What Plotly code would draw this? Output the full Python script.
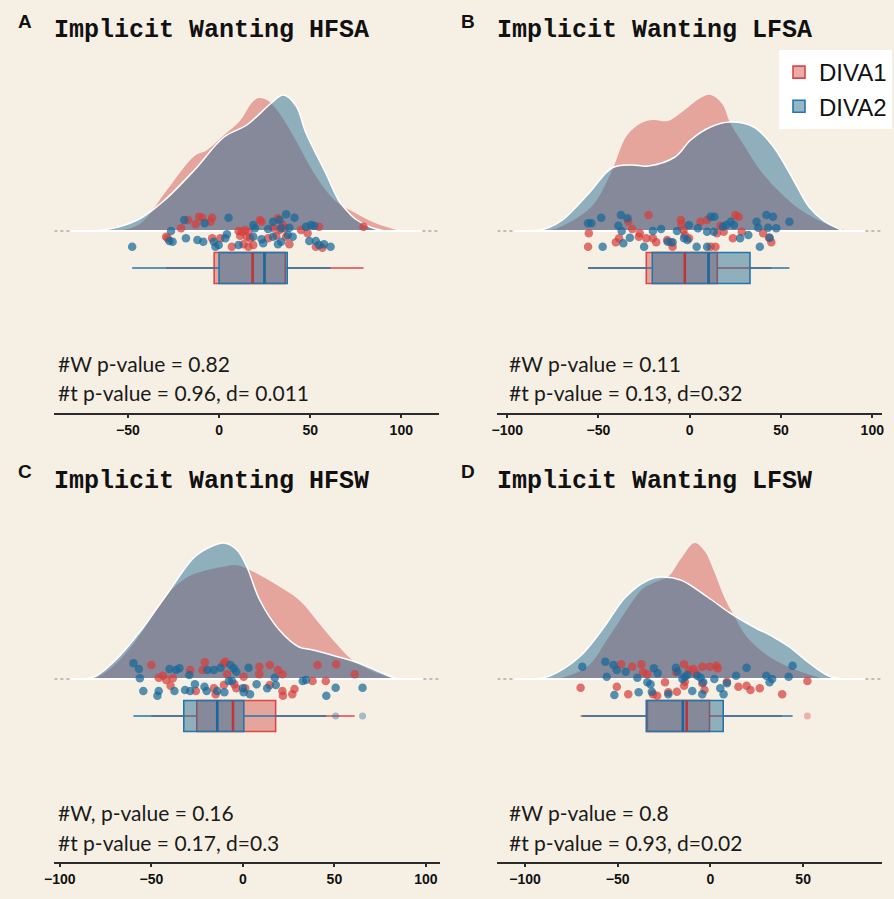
import plotly.graph_objects as go

# ---------------------------------------------------------------------
# Data (raincloud plots, 4 panels)
# density heights are in plot units (baseline = 0), points jittered in y
# ---------------------------------------------------------------------
groups = ["DIVA1", "DIVA2"]
panel_letters = ["A", "B", "C", "D"]
panel_titles = ["Implicit Wanting HFSA", "Implicit Wanting LFSA",
                "Implicit Wanting HFSW", "Implicit Wanting LFSW"]
stat_lines = [
    ["#W p-value = 0.82", "#t p-value = 0.96, d= 0.011"],
    ["#W p-value = 0.11", "#t p-value = 0.13, d=0.32"],
    ["#W, p-value = 0.16", "#t p-value = 0.17, d=0.3"],
    ["#W p-value = 0.8", "#t p-value = 0.93, d=0.02"],
]
tick_values = [[-50, 0, 50, 100], [-100, -50, 0, 50, 100],
               [-100, -50, 0, 50, 100], [-100, -50, 0, 50]]

# densities
dens_a_red_x = [-60.7, -52.5, -42.8, -28.2, -13.5, -6.5, 2.7, 11.4, 17.9, 21.7, 27.1, 34.1, 42.3, 53.1, 63.9, 74.8, 85.6, 99.1]
dens_a_red_y = [0, 1, 8, 42, 75, 81, 96, 110, 128, 133, 130, 115, 90, 55, 30, 18, 8, 0]
dens_a_blue_x = [-67.7, -55.3, -42.8, -29.8, -13.5, 2.7, 15.2, 28.7, 35.2, 42.3, 47.7, 58.5, 65.5, 69.3, 74.8, 82.9, 91.0]
dens_a_blue_y = [0, 4, 13, 31, 61, 94, 106, 128, 136, 125, 98, 58, 31, 22, 12, 4, 0]

dens_b_red_x = [-77.8, -69.7, -53.5, -42.7, -34.6, -26.5, -20.0, -12.0, -4.9, 5.9, 11.4, 17.8, 22.2, 30.3, 38.0, 46.5, 60.0, 76.2, 87.0]
dens_b_red_y = [0, 5, 25, 60, 95, 108, 111, 110, 118, 133, 136, 127, 108, 84, 62, 44, 22, 6, 0]
dens_b_blue_x = [-88.6, -77.8, -69.7, -55.1, -42.7, -31.9, -22.7, -8.1, 0.5, 11.4, 22.2, 35.1, 45.9, 56.8, 65.4, 73.5, 84.3]
dens_b_blue_y = [0, 3, 11, 38, 63, 66, 65, 74, 91, 104, 109, 104, 84, 51, 24, 10, 0]

dens_c_red_x = [-81.4, -73.3, -62.5, -51.8, -42.6, -30.2, -19.4, -11.3, -4.3, 3.8, 16.7, 30.7, 41.5, 50.7, 59.8, 70.6, 83.0]
dens_c_red_y = [0, 9, 29, 56, 82, 102, 109, 112, 114, 109, 96, 79, 56, 36, 19, 8, 0]
dens_c_blue_x = [-86.8, -80.3, -67.9, -55.5, -41.0, -26.4, -16.7, -10.2, -3.2, 2.2, 9.2, 19.9, 30.7, 38.3, 52.3, 63.1, 76.0, 84.1]
dens_c_blue_y = [0, 3, 22, 49, 86, 122, 133, 136, 129, 112, 79, 49, 32, 29, 22, 16, 6, 0]

dens_d_red_x = [-82.4, -66.5, -54.8, -44.1, -37.2, -29.8, -22.9, -16.0, -8.5, -3.2, 2.1, 7.4, 12.8, 19.7, 31.9, 46.3, 61.2]
dens_d_red_y = [0, 12, 42, 72, 89, 97, 102, 120, 136, 128, 107, 82, 63, 42, 22, 9, 0]
dens_d_blue_x = [-95.7, -86.7, -70.7, -58.5, -45.7, -33.5, -26.6, -16.0, -1.6, 10.6, 23.4, 34.0, 42.6, 53.2, 63.8, 71.8]
dens_d_blue_y = [0, 3, 22, 49, 82, 99, 102, 99, 82, 66, 52, 42, 32, 16, 3, 0]

# jittered points
pts_a_red_x = [-17.0, -11.0, -9.2, -3.8, -4.7, -12.8, 22.4, 23.3, 32.3, 35.0, -20.9, 29.6, 33.2, 35.9, 45.0, 48.6, 54.9, 79.3,
               -29.1, -28.2, -3.8, 0.7, 10.7, 12.5, 14.3, 16.1, 11.6, 15.2, 17.0, 26.9, 31.4, 36.8, 7.0, 13.4, 16.1, 18.8, 38.6, 53.1, 56.7]
pts_a_red_y = [11, 14.3, 13.3, 13.3, 9.3, 6.7, 11, 9.3, 12.7, 6, 2.7, 3.3, 1, 2.7, 1, -2.3, 4.3, 4.3,
               -5.7, -7.3, -7.3, -7.3, 0, -0.7, 1, -0.7, -4.7, -5.7, -7.3, -7.3, -4.7, -5.7, -15.7, -13.3, -15.7, -14, -13.3, -15.7, -16.7]
pts_a_blue_x = [-19.1, -7.9, 5.2, 29.6, 33.2, 36.8, 41.4, 18.8, 19.7, 26.9, 34.1, 38.6, 47.7, 52.2,
                -26.4, -25.5, -27.3, -18.2, -11.9, -8.7, -2.9, 3.4, 4.3, 18.8, 23.3, 29.6, 37.7, 40.4, 49.5, 53.1,
                -47.7, -2.0, -0.2, 10.7, 24.2, 32.3, 34.1, 54.9, 57.6, 61.2, 50.4]
pts_a_blue_y = [11, 7.7, 13.3, 9.3, 11, 16.7, 13.3, 6, 2.7, 2, 2.7, 3.3, 4.3, 5.3,
                0, -10.7, -10, -7.3, -9, -10.7, -10.7, -7.3, -3.3, -5.7, -8.3, -5.7, -4, -5.7, -10, -10,
                -15.7, -15.7, -14, -14, -12.3, -13.3, -10.7, -14, -13.3, -15.7, 6]

pts_b_red_x = [-55.3, -55.7, -40.5, -38.7, -33.7, -31.5, -27.4, -27.9, -23.8, -22.6, -20.2, -18.4, -12.4, -10.3, -9.4, -4.9, -4.5,
               -3.4, -2.7, -0.4, 5.9, 9.5, 11.4, 14.1, 14.9, 16.8, 18.6, 25.0, 26.8, 23.6, 28.5, 40.2, 43.4, 44.7]
pts_b_red_y = [-2.3, -15.7, -11.3, -7.3, 9.3, 2, -2.3, -5.7, -7.3, 16, -7.3, -11.3, -9, -11.3, -15.7, 11, 6.7,
               1, -4, -7.3, 9.3, 11, -15.7, -15.7, -2.3, 5.3, -0.7, 16, 14.3, -7.3, -0.7, -2.3, -6.7, -11.3]
pts_b_blue_x = [-55.7, -53.9, -48.5, -37.7, -34.1, -39.1, -37.3, -32.8, -47.7, -36.4, -25.0, -20.2, -15.7, -12.1, -9.4, -7.0,
                -3.1, -1.3, -0.4, 3.8, 4.5, 9.5, 9.5, 11.4, 13.5, 13.2, 18.2, 20.0, 22.5, 24.3, 27.6, 32.1, 36.6, 37.5,
                38.4, 42.0, 45.6, 42.9, 47.4, 54.6, 43.8]
pts_b_blue_y = [7.7, 7.7, 13.3, 16, 12.7, 5.3, 0, -6.7, -15.7, -12.3, -15.7, 0, 2, -10.7, -11.3, 0,
                -7.3, -9, 6, -15.7, 2.7, -15.7, -0.7, 14.3, 14.3, -0.7, 4.3, 6, 9.3, 6, -7.3, -4, 9.3, 3.3,
                -15.7, 16, 14.3, 3.3, 2.7, 9.3, -6.7]

pts_c_red_x = [-50.0, -46.0, -43.7, -41.9, -38.3, -39.5, -28.8, -25.7, -22.1, -20.8, -15.8, -14.9, -10.4, -9.5, -8.6, -10.4, -4.7,
               -3.6, 0.4, 1.3, 9.0, 9.0, 14.7, 14.7, 19.2, 21.6, 21.6, 21.9, 27.0, 28.2, 38.1, 40.8, 45.3, 51.0, 61.1]
pts_c_red_y = [14, 1.3, 3.3, -1, 0.7, -6.7, 9, -12, 9, 16.7, -9.3, -15.3, 15.7, 17.3, 4.7, -6, -5.3,
               -9.3, 2.3, -9.3, 12.3, 4.7, 14, -6, 9, 4.7, -12, -16.7, -15.3, -10, -2, 14, -2, 14.7, 4.7]
pts_c_blue_x = [-59.8, -56.8, -56.3, -54.4, -46.0, -46.7, -40.1, -36.5, -34.7, -37.4, -31.6, -29.3, -26.2, -28.8, -21.0, -19.4,
                -15.8, -19.8, -14.0, -10.1, -12.2, -6.8, -5.0, -3.6, -7.7, -5.9, 0.0, 0.4, 3.9, 3.1, 7.5, 13.3, 17.4, 18.0,
                32.7, 34.5, 45.6, 50.7, 65.4]
pts_c_blue_y = [15.7, 10, 0.7, -12, -12, -16.7, 10, 9, 10.7, -12, -11, 4, -5.3, -12, -7.7, 9,
                9, -12, -12, -13.3, 11.3, 14, 10.7, 7.3, -2, -2, -9.3, -13.3, -15.3, 11.3, -5.3, -9.3, 1.3, -6,
                -2, -1, -16.7, -8.7, -8.7]

pts_d_red_x = [-70.0, -50.5, -48.2, -44.3, -42.2, -37.2, -36.3, -34.0, -31.0, -28.7, -24.5, -22.7, -18.1, -18.6, -14.2, -13.8,
               -14.2, -11.5, -9.2, -8.0, -4.4, -4.4, -3.2, -0.4, 3.2, 3.9, 8.9, 15.1, 19.5, 21.6, 26.6, 38.7, 52.3]
pts_d_red_y = [-8.7, -7.7, 14.7, -15.3, 12.3, 14.7, 6.7, 4.7, -15.3, -16.7, -3.3, -13.3, -12.7, 6.7, 14.7, -2.7,
               -6.7, 9, 10, 5.7, 12.3, -4.3, -11, 12.3, 13.3, 10.7, -2.7, -7.7, -6.7, -11, -9.3, -15.3, -2]
pts_d_blue_x = [-69.1, -56.7, -55.9, -52.3, -50.5, -45.7, -51.8, -39.4, -38.7, -34.0, -32.3, -31.6, -30.5, -28.4, -22.7, -18.6,
                -17.7, -15.1, -13.8, -12.4, -9.8, -7.1, -5.3, -4.4, -3.9, 2.1, 5.3, 7.1, 8.9, 13.8, 19.5, 30.1, 31.9, 33.3,
                42.2, 44.3]
pts_d_blue_y = [12.3, 17.3, 2.3, 14, 9, 7.3, -16, 1.3, -13.3, -3.3, -5.3, -12.7, 10.7, 5.7, -15.3, 11.3,
                7.3, 0, 2.3, 4, -12, 3.3, 1.3, -15.3, -3.3, 0, -9.3, -15.3, -4.3, 3.3, 11.3, 3.3, -3.3, 0,
                2.3, 13.3]

# box plot stats: [q1, median, q3, lower whisker, upper whisker]
box_a_red = [-2.7, 18.4, 36.3, -29.1, 79.3]
box_a_blue = [0.0, 24.9, 37.4, -47.7, 61.2]
box_b_red = [-23.8, -2.7, 15.1, -55.7, 44.7]
box_b_blue = [-20.5, 10.3, 33.0, -55.7, 54.6]
box_c_red = [-25.2, -5.4, 17.9, -50.0, 61.1]
box_c_blue = [-32.3, -14.0, 0.5, -59.8, 45.6]
box_d_red = [-34.0, -12.8, -0.5, -70.0, 38.7]
box_d_blue = [-34.6, -14.9, 6.9, -69.1, 44.3]

# outliers drawn on the whisker line
outl_c_blue = [50.7, 65.4]
outl_d_red = [52.3]

# ---------------------------------------------------------------------
W, H = 894, 899
BG = "#F6F0E4"
RED_FILL = "rgba(211,90,86,0.5)"
BLUE_FILL = "rgba(40,110,150,0.5)"
RED_PT = "rgba(214,62,60,0.72)"
BLUE_PT = "rgba(24,104,152,0.72)"
RED_LINE = "#D94848"
BLUE_LINE = "#2675A8"
RED_MED = "#B8383F"
BLUE_MED = "#1D6699"

# pixel layout of each panel: (left, right, top, bottom, baseline)
panels_px = [(45, 435, 60, 413, 231), (494, 884, 60, 413, 231),
             (45, 436, 510, 862, 679), (494, 884, 510, 862, 679)]
x_ranges = [[-90.4, 120.8], [-105.4, 105.4], [-103.0, 107.8], [-114.9, 92.6]]
box_pos = -37
box_w = 31

panel_data = [
    (dens_a_red_x, dens_a_red_y, dens_a_blue_x, dens_a_blue_y, pts_a_red_x, pts_a_red_y, pts_a_blue_x, pts_a_blue_y,
     box_a_red, box_a_blue, [], []),
    (dens_b_red_x, dens_b_red_y, dens_b_blue_x, dens_b_blue_y, pts_b_red_x, pts_b_red_y, pts_b_blue_x, pts_b_blue_y,
     box_b_red, box_b_blue, [], []),
    (dens_c_red_x, dens_c_red_y, dens_c_blue_x, dens_c_blue_y, pts_c_red_x, pts_c_red_y, pts_c_blue_x, pts_c_blue_y,
     box_c_red, box_c_blue, [], outl_c_blue),
    (dens_d_red_x, dens_d_red_y, dens_d_blue_x, dens_d_blue_y, pts_d_red_x, pts_d_red_y, pts_d_blue_x, pts_d_blue_y,
     box_d_red, box_d_blue, outl_d_red, []),
]

fig = go.Figure()
layout_axes = {}
annotations = []

for i, (drx, dry, dbx, dby, prx, pry, pbx, pby, br, bb, orr, ob) in enumerate(panel_data):
    n = "" if i == 0 else str(i + 1)
    xa, ya = "x" + n, "y" + n
    left, right, top, bottom, base = panels_px[i]
    xr = x_ranges[i]
    yr = [-(bottom - base), base - top]

    # densities
    fig.add_trace(go.Scatter(x=drx, y=dry, mode="lines", line=dict(width=0, shape="spline"),
                             fill="tozeroy", fillcolor=RED_FILL, xaxis=xa, yaxis=ya,
                             showlegend=False, hoverinfo="skip"))
    fig.add_trace(go.Scatter(x=dbx, y=dby, mode="lines", line=dict(width=1.5, color="white", shape="spline"),
                             fill="tozeroy", fillcolor=BLUE_FILL, xaxis=xa, yaxis=ya,
                             showlegend=False, hoverinfo="skip"))
    # baseline: white inside, dotted at both ends
    span = (xr[1] - xr[0]) * 17 / (right - left)
    fig.add_trace(go.Scatter(x=[xr[0] + span, xr[1] - span], y=[0, 0], mode="lines",
                             line=dict(color="white", width=2), xaxis=xa, yaxis=ya,
                             showlegend=False, hoverinfo="skip"))
    for seg in ([xr[0], xr[0] + span], [xr[1] - span, xr[1]]):
        fig.add_trace(go.Scatter(x=seg, y=[0, 0], mode="lines",
                                 line=dict(color="#8a8a8a", width=1.2, dash="dot"), xaxis=xa, yaxis=ya,
                                 showlegend=False, hoverinfo="skip"))
    # points
    fig.add_trace(go.Scatter(x=prx, y=pry, mode="markers", marker=dict(size=8.5, color=RED_PT),
                             xaxis=xa, yaxis=ya, showlegend=False, hoverinfo="skip"))
    fig.add_trace(go.Scatter(x=pbx, y=pby, mode="markers", marker=dict(size=8.5, color=BLUE_PT),
                             xaxis=xa, yaxis=ya, showlegend=False, hoverinfo="skip"))
    # boxes
    for stats, fillc, linec, medc, name in ((br, RED_FILL, RED_LINE, RED_MED, groups[0]),
                                            (bb, BLUE_FILL, BLUE_LINE, BLUE_MED, groups[1])):
        fig.add_trace(go.Box(y=[box_pos], q1=[stats[0]], median=[stats[1]], q3=[stats[2]],
                             lowerfence=[stats[3]], upperfence=[stats[4]], orientation="h",
                             width=box_w, whiskerwidth=0, fillcolor=fillc, line=dict(color=linec, width=1.6),
                             boxpoints=False, name=name, legendgroup=name, showlegend=(i == 1),
                             xaxis=xa, yaxis=ya, hoverinfo="skip"))
        # thicker median stroke on top of the box
        fig.add_trace(go.Scatter(x=[stats[1], stats[1]], y=[box_pos - box_w / 2, box_pos + box_w / 2],
                                 mode="lines", line=dict(color=medc, width=2.6),
                                 xaxis=xa, yaxis=ya, showlegend=False, hoverinfo="skip"))
    if orr:
        fig.add_trace(go.Scatter(x=orr, y=[box_pos] * len(orr), mode="markers",
                                 marker=dict(size=7, color="rgba(214,62,60,0.35)"),
                                 xaxis=xa, yaxis=ya, showlegend=False, hoverinfo="skip"))
    if ob:
        fig.add_trace(go.Scatter(x=ob, y=[box_pos] * len(ob), mode="markers",
                                 marker=dict(size=7, color="rgba(40,110,150,0.4)"),
                                 xaxis=xa, yaxis=ya, showlegend=False, hoverinfo="skip"))

    layout_axes["xaxis" + n] = dict(
        domain=[left / W, right / W], range=xr, anchor=ya, showgrid=False, zeroline=False,
        showline=True, linecolor="#2b2b2b", linewidth=2, ticks="outside", ticklen=3, tickwidth=1.5,
        tickcolor="#2b2b2b", tickvals=tick_values[i],
        tickfont=dict(family="Liberation Sans", size=14, color="#111", weight="bold"), fixedrange=True)
    layout_axes["yaxis" + n] = dict(
        domain=[1 - bottom / H, 1 - top / H], range=yr, anchor=xa, visible=False, fixedrange=True)

    # panel letter and title
    annotations.append(dict(text="<b>%s</b>" % panel_letters[i], x=(left - 30) / W, y=1 - (top - 39) / H,
                            xref="paper", yref="paper", showarrow=False, xanchor="center", yanchor="middle",
                            font=dict(family="Liberation Sans", size=19, color="#111")))
    annotations.append(dict(text="<b>%s</b>" % panel_titles[i], x=(left - 2) / W, y=1 - (top - 29) / H,
                            xref="paper", yref="paper", showarrow=False, xanchor="left", yanchor="middle",
                            font=dict(family="Liberation Mono", size=25, color="#111")))
    # test results
    for k, line in enumerate(stat_lines[i]):
        annotations.append(dict(text=line, x=(left + 2 + (8 if i % 2 else 0)) / W,
                                y=1 - (bottom - 50 + k * 30) / H,
                                xref="paper", yref="paper", showarrow=False, xanchor="left", yanchor="middle",
                                font=dict(family="Lato", size=21, color="#1a1a1a")))

fig.update_layout(
    width=W, height=H,
    margin=dict(l=0, r=0, t=0, b=0),
    paper_bgcolor=BG, plot_bgcolor=BG,
    boxmode="overlay",
    annotations=annotations,
    legend=dict(x=1, y=1 - 50 / H, xanchor="right", yanchor="top", bgcolor="white",
                font=dict(family="Liberation Sans", size=24, color="#111"),
                traceorder="normal", tracegroupgap=0, itemwidth=30),
    **layout_axes
)

# drop the default page margin so the figure sits at the window origin
fig.write_html("out.html", config={"displayModeBar": False},
               post_script="document.body.style.margin='0';document.body.style.overflow='hidden';")
